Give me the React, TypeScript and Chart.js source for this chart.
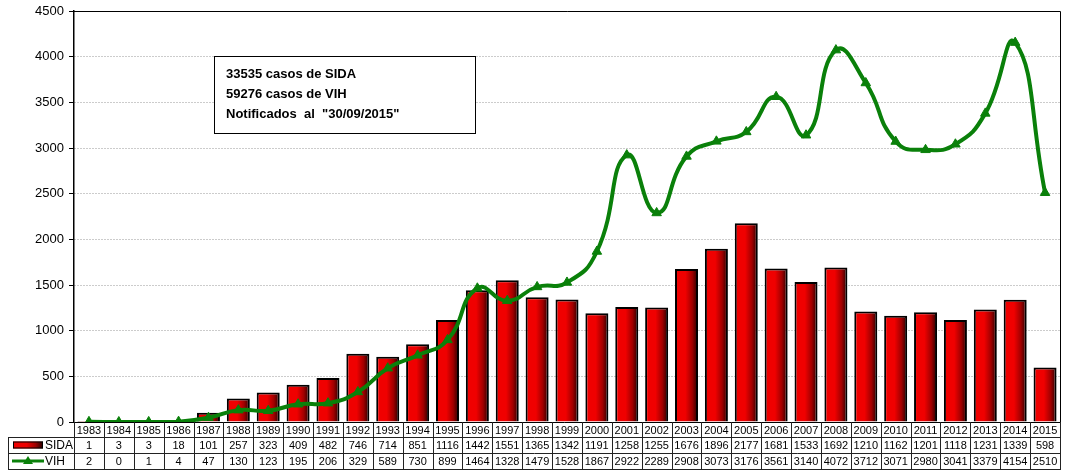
import React, { useEffect, useRef } from "react";
import { Chart, registerables } from "chart.js";

Chart.register(...registerables);

const years = ["1983","1984","1985","1986","1987","1988","1989","1990","1991","1992","1993","1994","1995","1996","1997","1998","1999","2000","2001","2002","2003","2004","2005","2006","2007","2008","2009","2010","2011","2012","2013","2014","2015"];
const sida = [1,3,3,18,101,257,323,409,482,746,714,851,1116,1442,1551,1365,1342,1191,1258,1255,1676,1896,2177,1681,1533,1692,1210,1162,1201,1118,1231,1339,598];
const vih = [2,0,1,4,47,130,123,195,206,329,589,730,899,1464,1328,1479,1528,1867,2922,2289,2908,3073,3176,3561,3140,4072,3712,3071,2980,3041,3379,4154,2510];
const noteLines = ["33535 casos de SIDA", "59276 casos de VIH", "Notificados  al  \"30/09/2015\""];
const Y_MAX = 4500;
const Y_STEP = 500;

const W = 1070;
const H = 472;
const BAR_PCT = 0.77;
const GREEN = "#0a800a";

function barGradient(ctx: CanvasRenderingContext2D, x0: number, x1: number) {
  const g = ctx.createLinearGradient(x0, 0, x1, 0);
  g.addColorStop(0, "#f00000");
  g.addColorStop(0.45, "#f00000");
  g.addColorStop(0.75, "#a00000");
  g.addColorStop(1, "#200000");
  return g;
}

const framePlugin = {
  id: "frameTable",
  afterDraw(chart: any) {
    const ctx: CanvasRenderingContext2D = chart.ctx;
    const ca = chart.chartArea;
    const n = years.length;
    const cw = (ca.right - ca.left) / n;
    ctx.save();
    // plot frame
    ctx.strokeStyle = "#000";
    ctx.lineWidth = 1;
    ctx.beginPath();
    ctx.moveTo(ca.left, Math.round(ca.top) + 0.5);
    ctx.lineTo(Math.round(ca.right) + 0.5, Math.round(ca.top) + 0.5);
    ctx.lineTo(Math.round(ca.right) + 0.5, Math.round(ca.bottom) + 0.5);
    ctx.moveTo(ca.left - 5, Math.round(ca.bottom) + 0.5);
    ctx.lineTo(Math.round(ca.right) + 0.5, Math.round(ca.bottom) + 0.5);
    ctx.stroke();

    // table
    const yTop = Math.round(ca.bottom);
    const r1 = yTop + 15;
    const r2 = r1 + 16;
    const r3 = r2 + 16;
    const tableLeft = 8;
    ctx.strokeStyle = "#222";
    ctx.beginPath();
    for (let i = 0; i <= n; i++) {
      const x = Math.round(ca.left + i * cw) + 0.5;
      ctx.moveTo(x, yTop);
      ctx.lineTo(x, r3 + 0.5);
    }
    ctx.moveTo(tableLeft + 0.5, r1 + 0.5);
    ctx.lineTo(tableLeft + 0.5, r3 + 0.5);
    [r1, r2, r3].forEach((y) => {
      ctx.moveTo(tableLeft, y + 0.5);
      ctx.lineTo(Math.round(ca.right) + 1, y + 0.5);
    });
    ctx.stroke();

    ctx.fillStyle = "#000";
    ctx.font = "11px 'Liberation Sans', Arial, sans-serif";
    ctx.textAlign = "center";
    ctx.textBaseline = "middle";
    for (let i = 0; i < n; i++) {
      const cx = ca.left + (i + 0.5) * cw;
      ctx.fillText(years[i], cx, (yTop + r1) / 2 + 1);
      ctx.fillText(String(sida[i]), cx, (r1 + r2) / 2 + 1);
      ctx.fillText(String(vih[i]), cx, (r2 + r3) / 2 + 1);
    }
    // legend keys
    const sy = (r1 + r2) / 2;
    ctx.fillStyle = barGradient(ctx, 13, 43);
    ctx.fillRect(13, sy - 3.5, 30, 7);
    ctx.strokeStyle = "#000";
    ctx.lineWidth = 1;
    ctx.strokeRect(13.5, sy - 3, 29, 6);
    ctx.fillStyle = "#000";
    ctx.textAlign = "left";
    ctx.font = "12px 'Liberation Sans', Arial, sans-serif";
    ctx.fillText("SIDA", 45, sy + 1);
    const vy = (r2 + r3) / 2;
    ctx.strokeStyle = GREEN;
    ctx.lineWidth = 3;
    ctx.beginPath();
    ctx.moveTo(12, vy);
    ctx.lineTo(44, vy);
    ctx.stroke();
    ctx.fillStyle = GREEN;
    ctx.beginPath();
    ctx.moveTo(28, vy - 5);
    ctx.lineTo(33, vy + 3);
    ctx.lineTo(23, vy + 3);
    ctx.closePath();
    ctx.fill();
    ctx.fillStyle = "#000";
    ctx.fillText("VIH", 45, vy + 1);

    // note box
    const bx = 214.5, by = 56.5, bw = 261, bh = 77;
    ctx.fillStyle = "#fff";
    ctx.fillRect(bx, by, bw, bh);
    ctx.strokeStyle = "#000";
    ctx.lineWidth = 1;
    ctx.strokeRect(bx, by, bw, bh);
    ctx.fillStyle = "#000";
    ctx.font = "bold 13px 'Liberation Sans', Arial, sans-serif";
    ctx.textAlign = "left";
    ctx.textBaseline = "middle";
    noteLines.forEach((t, i) => ctx.fillText(t, 226, 74 + i * 20));
    ctx.restore();
  },
};

export default function App() {
  const ref = useRef<HTMLCanvasElement | null>(null);
  useEffect(() => {
    document.body.style.margin = "0";
    const canvas = ref.current!;
    const chart = new Chart(canvas, {
      type: "bar",
      data: {
        labels: years,
        datasets: [
          {
            type: "line",
            label: "VIH",
            data: vih,
            borderColor: GREEN,
            backgroundColor: GREEN,
            borderWidth: 4,
            tension: 0.5,
            pointStyle: "triangle",
            pointRadius: 5.5,
            pointBorderWidth: 1,
            order: 0,
          } as any,
          {
            type: "bar",
            label: "SIDA",
            data: sida,
            backgroundColor: (c: any) => {
              const chart = c.chart;
              const xs = chart.scales && chart.scales.x;
              if (!xs || !xs.width) return "#e00000";
              const cx = xs.getPixelForValue(c.dataIndex);
              const w = ((xs.right - xs.left) / years.length) * BAR_PCT;
              return barGradient(chart.ctx, cx - w / 2, cx + w / 2);
            },
            borderColor: "#000",
            borderWidth: 2,
            borderSkipped: "bottom",
            barPercentage: BAR_PCT,
            categoryPercentage: 1,
            order: 1,
          } as any,
        ],
      },
      options: {
        animation: false,
        responsive: false,
        devicePixelRatio: 1,
        layout: { padding: { left: 0, right: 10, top: 11, bottom: 50 } },
        plugins: { legend: { display: false }, tooltip: { enabled: false } },
        scales: {
          x: { display: false, offset: true },
          y: {
            min: 0,
            max: Y_MAX,
            afterFit: (s: any) => { s.width = 74; s.paddingTop = 0; s.paddingBottom = 0; },
            ticks: {
              stepSize: Y_STEP,
              color: "#000",
              padding: 5,
              font: { family: "'Liberation Sans', Arial, sans-serif", size: 13 },
              callback: (v: any) => String(v),
            },
            grid: {
              color: (c: any) => (c.tick && c.tick.value === 0 ? "rgba(0,0,0,0)" : "#999999"),
              tickColor: "#000",
              tickLength: 5,
              lineWidth: 1,
            },
            border: { display: true, color: "#000", width: 1.5, dash: [1, 2] },
          },
        },
      },
      plugins: [framePlugin],
    });
    return () => chart.destroy();
  }, []);
  return (
    <div style={{ width: W, height: H, position: "relative", background: "#fff" }}>
      <canvas ref={ref} width={W} height={H} style={{ display: "block" }} />
    </div>
  );
}
